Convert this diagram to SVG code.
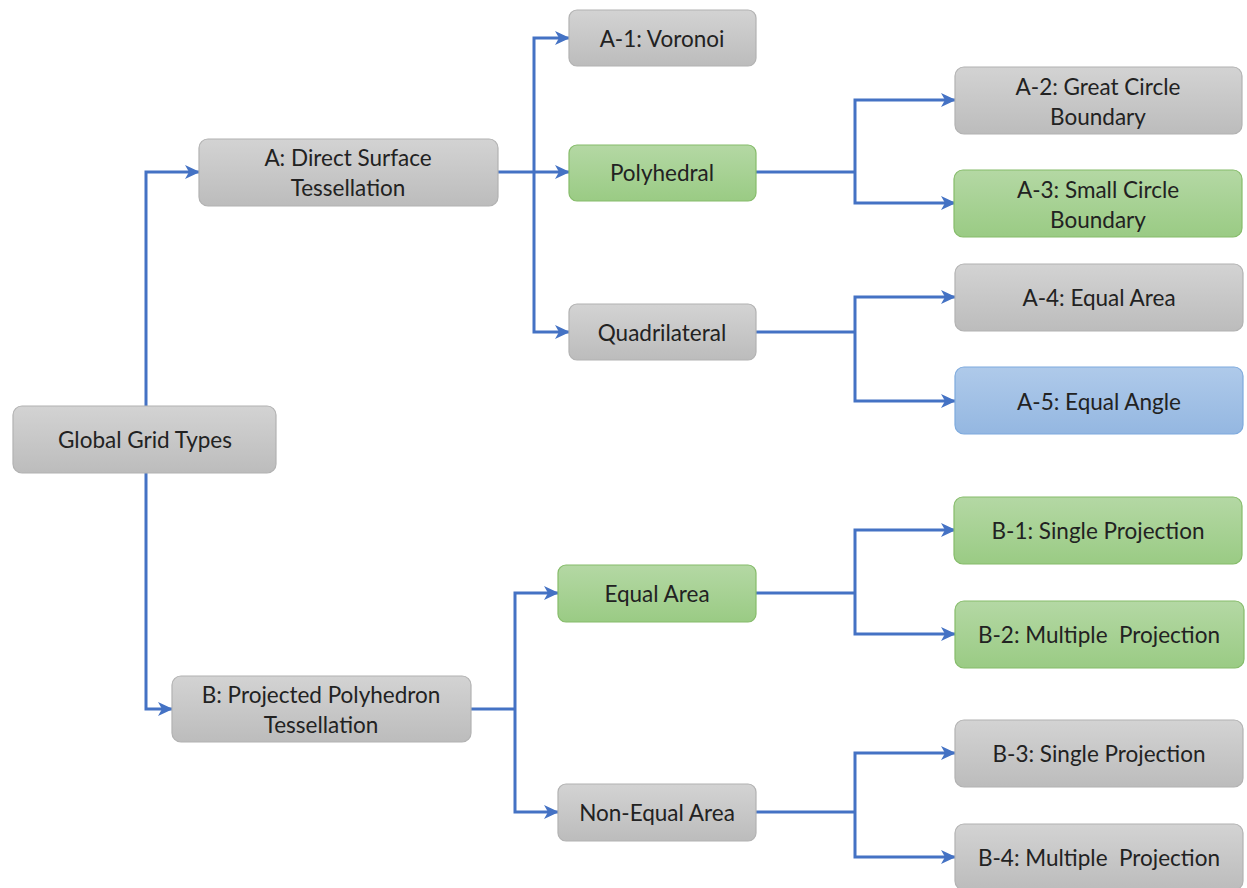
<svg xmlns="http://www.w3.org/2000/svg" width="1247" height="888" viewBox="0 0 1247 888">
  <style>
    .box rect { stroke-width: 1.2; }
    .gray rect { fill: url(#gGray); stroke: #b2b2b2; }
    .green rect { fill: url(#gGreen); stroke: #86bc6a; }
    .blue rect { fill: url(#gBlue); stroke: #7eaadd; }
    text { font-family: Lato, "Open Sans", "Liberation Sans", sans-serif; font-size: 22.5px; fill: #222222; text-anchor: middle; dominant-baseline: central; white-space: pre; }
    .conn path { fill: none; stroke: #4472c4; stroke-width: 3; }
    .conn .arrow { marker-end: url(#arrow); }
  </style>
  <defs>
    <linearGradient id="gGray" x1="0" y1="0" x2="0" y2="1">
      <stop offset="0" stop-color="#d3d3d3"/>
      <stop offset="1" stop-color="#bcbcbc"/>
    </linearGradient>
    <linearGradient id="gGreen" x1="0" y1="0" x2="0" y2="1">
      <stop offset="0" stop-color="#b4d8a4"/>
      <stop offset="1" stop-color="#9acb84"/>
    </linearGradient>
    <linearGradient id="gBlue" x1="0" y1="0" x2="0" y2="1">
      <stop offset="0" stop-color="#afcaea"/>
      <stop offset="1" stop-color="#94b7e1"/>
    </linearGradient>
    <marker id="arrow" viewBox="0 0 16 16" refX="14" refY="8" markerWidth="16" markerHeight="16" markerUnits="userSpaceOnUse" orient="auto">
      <path d="M0,1 L15,8 L0,15 L4,8 Z" fill="#4472c4"/>
    </marker>
  </defs>

  <!-- connectors -->
  <g class="conn">
    <path class="arrow" d="M146,406 V172 H199"/>
    <path class="arrow" d="M146,473 V709 H172"/>
    <path class="arrow" d="M498,172 H569"/>
    <path class="arrow" d="M534,172 V38 H569"/>
    <path class="arrow" d="M534,172 V332 H569"/>
    <path d="M756,172 H855"/>
    <path class="arrow" d="M855,172 V100 H955"/>
    <path class="arrow" d="M855,172 V203 H955"/>
    <path d="M756,332 H855"/>
    <path class="arrow" d="M855,332 V297 H955"/>
    <path class="arrow" d="M855,332 V401 H955"/>
    <path d="M471,709 H515"/>
    <path class="arrow" d="M515,709 V593 H558"/>
    <path class="arrow" d="M515,709 V812 H558"/>
    <path d="M756,593 H855"/>
    <path class="arrow" d="M855,593 V530 H955"/>
    <path class="arrow" d="M855,593 V634 H955"/>
    <path d="M756,812 H855"/>
    <path class="arrow" d="M855,812 V753 H955"/>
    <path class="arrow" d="M855,812 V857 H955"/>
  </g>

  <g id="root" class="box gray">
    <rect x="13" y="406" width="263" height="67" rx="9"/>
    <text x="145" y="439">Global Grid Types</text>
  </g>
  <g id="nodeA" class="box gray">
    <rect x="199" y="139" width="299" height="67" rx="9"/>
    <text x="348" y="157">A: Direct Surface</text>
    <text x="348" y="187">Tessellation</text>
  </g>
  <g id="nodeB" class="box gray">
    <rect x="172" y="676" width="299" height="66" rx="9"/>
    <text x="321" y="694">B: Projected Polyhedron</text>
    <text x="321" y="724">Tessellation</text>
  </g>
  <g id="voronoi" class="box gray">
    <rect x="569" y="10" width="187" height="56" rx="8"/>
    <text x="662" y="38">A-1: Voronoi</text>
  </g>
  <g id="polyhedral" class="box green">
    <rect x="569" y="145" width="187" height="56" rx="8"/>
    <text x="662" y="172">Polyhedral</text>
  </g>
  <g id="quadrilateral" class="box gray">
    <rect x="569" y="304" width="187" height="56" rx="8"/>
    <text x="662" y="332">Quadrilateral</text>
  </g>
  <g id="a2" class="box gray">
    <rect x="955" y="67" width="287" height="67" rx="9"/>
    <text x="1098" y="86">A-2: Great Circle</text>
    <text x="1098" y="116">Boundary</text>
  </g>
  <g id="a3" class="box green">
    <rect x="954" y="170" width="288" height="67" rx="9"/>
    <text x="1098" y="189">A-3: Small Circle</text>
    <text x="1098" y="219">Boundary</text>
  </g>
  <g id="a4" class="box gray">
    <rect x="955" y="264" width="288" height="67" rx="9"/>
    <text x="1099" y="297">A-4: Equal Area</text>
  </g>
  <g id="a5" class="box blue">
    <rect x="955" y="367" width="288" height="67" rx="9"/>
    <text x="1099" y="401">A-5: Equal Angle</text>
  </g>
  <g id="equalArea" class="box green">
    <rect x="558" y="565" width="198" height="57" rx="8"/>
    <text x="657" y="593">Equal Area</text>
  </g>
  <g id="nonEqualArea" class="box gray">
    <rect x="558" y="784" width="198" height="57" rx="8"/>
    <text x="657" y="812">Non-Equal Area</text>
  </g>
  <g id="b1" class="box green">
    <rect x="954" y="497" width="288" height="67" rx="9"/>
    <text x="1098" y="530">B-1: Single Projection</text>
  </g>
  <g id="b2" class="box green">
    <rect x="955" y="601" width="289" height="67" rx="9"/>
    <text x="1099" y="634">B-2: Multiple  Projection</text>
  </g>
  <g id="b3" class="box gray">
    <rect x="955" y="720" width="288" height="67" rx="9"/>
    <text x="1099" y="753">B-3: Single Projection</text>
  </g>
  <g id="b4" class="box gray">
    <rect x="955" y="824" width="288" height="66" rx="9"/>
    <text x="1099" y="857">B-4: Multiple  Projection</text>
  </g>
</svg>
